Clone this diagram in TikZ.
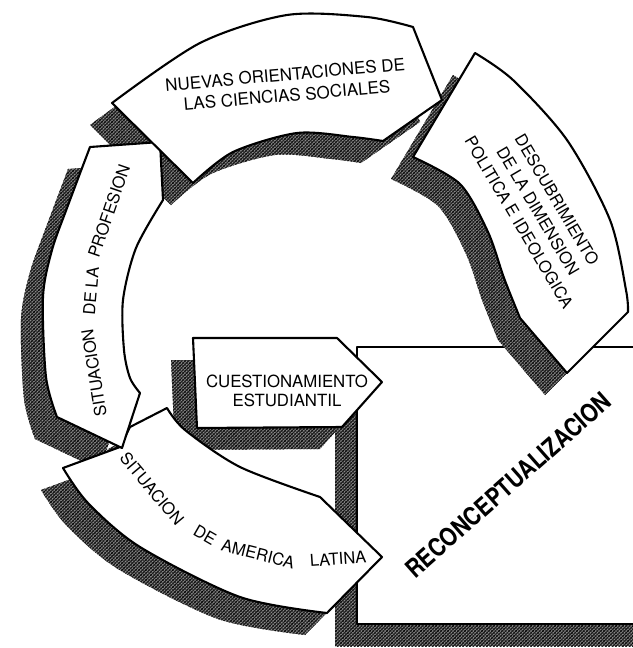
\documentclass[tikz,border=0pt]{standalone}
\usepackage{graphicx}
\usepackage{fontspec}
\setmainfont{TeX Gyre Heros}
\usetikzlibrary{patterns.meta}

\newcommand{\ShpNuevas}{(112,103) -- plot[smooth] coordinates {(112,103) (200,43) (287,15) (367,17) (413,27)} -- (442,100) -- plot[smooth] coordinates {(383,141) (353,137) (297,133) (233,152) (193,183)} -- cycle}
\newcommand{\ShpDesc}{(413,157) -- (475,53) -- plot[smooth] coordinates {(475,53) (513,80) (567,140) (610,220) (626,290) (628,312)} -- (567,373) -- (520,318) -- plot[smooth] coordinates {(520,318) (504,278) (488,232) (460,184) (413,157)} -- cycle}
\newcommand{\ShpCuest}{(193,338) -- (337,338) -- (382,382) -- (342,427) -- (197,428) -- cycle}
\newcommand{\ShpProf}{(90,147) -- (160,142) -- (163,200) -- plot[smooth] coordinates {(163,200) (136,248) (123,300) (124,350) (130,378) (140,393)} -- (122,448) -- (57,417) -- plot[smooth] coordinates {(57,417) (46,377) (43,297) (52,250) (67,208) (90,147)} -- cycle}
\newcommand{\ShpAmer}{(63,468) -- (120,447) -- (130,427) -- (167,408) -- plot[smooth] coordinates {(167,408) (185,430) (240,467) (320,497)} -- (382,557) -- (327,613) -- plot[smooth] coordinates {(327,613) (240,597) (140,547) (88,503) (63,468)} -- cycle}
\newcommand{\ShpBox}{(357,347) rectangle (660,624)}

\tikzset{
  hatchfill/.style={fill=black!45,
    postaction={pattern={Lines[angle=45,distance=2.4pt,line width=0.9pt]}, pattern color=black},
    postaction={pattern={Lines[angle=-45,distance=2.4pt,line width=0.7pt]}, pattern color=black!85}},
  blockshape/.style={fill=white, draw=black, line width=2.1pt, line join=round},
  lbl/.style={font=\fontsize{16.5}{21}\selectfont, align=center, inner sep=0pt},
  wrd/.style={font=\fontsize{16.5}{18}\selectfont, inner sep=0pt},
  shadowshift/.style={shift={(-22,22)}}
}

\begin{document}
\begin{tikzpicture}[x=1pt,y=-1pt]
\useasboundingbox (0,0) rectangle (632,648);
\fill[white] (0,0) rectangle (632,648);

% box and its shadow
\fill[hatchfill, shadowshift] \ShpBox;
\draw[blockshape] \ShpBox;

% ring shadows
\fill[hatchfill, shadowshift] \ShpAmer;
\fill[hatchfill, shadowshift] \ShpProf;
\fill[hatchfill, shadowshift] \ShpNuevas;
\fill[hatchfill, shadowshift] \ShpDesc;
\fill[hatchfill, shadowshift] \ShpCuest;

% ring blocks
\draw[blockshape] \ShpAmer;
\draw[blockshape] \ShpProf;
\draw[blockshape] \ShpNuevas;
\draw[blockshape] \ShpDesc;
\draw[blockshape] \ShpCuest;

% labels
\node[lbl, rotate=5, font=\fontsize{17}{21}\selectfont] (tNuevas) at (286,85) {NUEVAS ORIENTACIONES DE\\LAS CIENCIAS SOCIALES};
\node[lbl, rotate=-59.5, font=\fontsize{16.5}{22}\selectfont] (tDesc) at (538,211) {DESCUBRIMIENTO\\DE LA DIMENSION\\POLITICA E IDEOLOGICA};
\node[lbl, font=\fontsize{16.8}{18.5}\selectfont] (tCuest) at (287,391) {CUESTIONAMIENTO\\ESTUDIANTIL};
\node[font=\fontsize{22}{22}\selectfont\bfseries, rotate=41.5, inner sep=0pt] (tReco) at (508,485) {\scalebox{0.97}[1.15]{RECONCEPTUALIZACION}};

% SITUACION DE AMERICA LATINA (following the arc)
\node[wrd, rotate=-50] (tAm1) at (152,489) {SITUACION};
\node[wrd, rotate=-30] (tAm2) at (205,535) {DE};
\node[wrd, rotate=-14] (tAm3) at (258,554) {AMERICA};
\node[wrd, rotate=4] (tAm4) at (338,559) {LATINA};

% SITUACION DE LA PROFESION (following the arc)
\node[wrd, rotate=99] (tPr1) at (94,373) {SITUACION};
\node[wrd, rotate=85] (tPr2) at (91,291) {DE LA};
\node[wrd, rotate=71] (tPr3) at (109,211) {PROFESION};
\end{tikzpicture}
\end{document}
